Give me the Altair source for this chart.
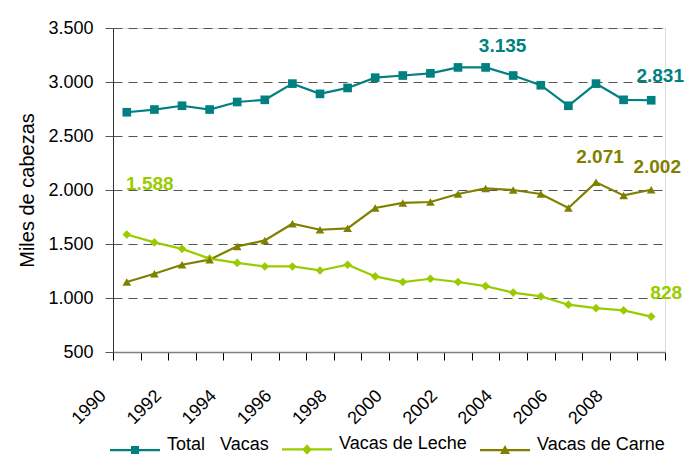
import altair as alt
import pandas as pd

YEARS = list(range(1990, 2010))
TOTAL = [2720, 2745, 2780, 2745, 2815, 2835, 2985, 2890, 2945, 3040,
         3060, 3080, 3135, 3135, 3060, 2970, 2780, 2985, 2835, 2831]
LECHE = [1588, 1515, 1455, 1365, 1325, 1292, 1292, 1255, 1308, 1200,
         1148, 1178, 1148, 1110, 1050, 1015, 938, 906, 885, 828]
CARNE = [1148, 1225, 1308, 1355, 1478, 1533, 1688, 1632, 1645, 1833,
         1880, 1889, 1963, 2015, 2000, 1963, 1833, 2071, 1950, 2002]

SERIES = ["Total\u00a0\u00a0\u00a0Vacas", "Vacas de Leche", "Vacas de Carne"]
COLORS = ["#008080", "#99CC00", "#808000"]
SHAPES = ["square", "diamond", "triangle-up"]

# labelled points
LABEL_YEARS = [1990, 2003, 2009, 2007, 2009, 2009]
LABEL_VALUES = [1588, 3135, 2831, 2071, 2002, 828]
LABEL_SERIES = [1, 0, 0, 2, 2, 1]
LABEL_OFFSETS = [(23, -50), (17, -21), (9, -24), (4, -25), (6, -23), (15, -24)]

rows = []
for name, vals in zip(SERIES, [TOTAL, LECHE, CARNE]):
    for y, v in zip(YEARS, vals):
        rows.append({"year": y, "value": v, "series": name})
df = pd.DataFrame(rows)

FONT = "Liberation Sans"

x_enc = alt.X(
    "year:Q",
    scale=alt.Scale(domain=[1989.5, 2009.5], nice=False, zero=False),
    axis=alt.Axis(
        title=None,
        values=[y - 0.5 for y in YEARS] + [2009.5],
        labelExpr="((datum.value + 0.5) % 2 == 0 && datum.value < 2009) ? format(datum.value + 0.5, 'd') : ''",
        labelAngle=-45,
        labelAlign="right",
        labelBaseline="middle",
        labelFlush=False,
        labelOverlap=False,
        labelPadding=33,
        labelOffset=-10,
        labelFont=FONT,
        labelFontSize=18,
        labelColor="#000000",
        tickSize=8,
        tickColor="#000000",
        tickWidth=1,
        domainColor="#808080",
        domainWidth=1.5,
        grid=False,
    ),
)
y_enc = alt.Y(
    "value:Q",
    scale=alt.Scale(domain=[500, 3500], nice=False, zero=False),
    axis=alt.Axis(
        title="Miles de cabezas",
        values=[500, 1000, 1500, 2000, 2500, 3000, 3500],
        labelExpr="replace(format(datum.value, ','), ',', '.')",
        labelFont=FONT,
        labelFontSize=18,
        labelColor="#000000",
        labelPadding=12,
        tickSize=8,
        tickColor="#555555",
        domainColor="#333333",
        domainWidth=1,
        grid=True,
        gridColor="#555555",
        gridDash=[9, 6],
        gridWidth=1,
        titleFont=FONT,
        titleFontSize=20,
        titleFontWeight="normal",
        titleColor="#000000",
        titleX=-86,
        titleY=162,
        titleAngle=-90,
        titleAlign="center",
        titleBaseline="middle",
    ),
)

color_nolegend = alt.Color("series:N", scale=alt.Scale(domain=SERIES, range=COLORS), legend=None)

lines = alt.Chart(df).mark_line(strokeWidth=2.2).encode(
    x=x_enc, y=y_enc, color=color_nolegend, detail="series:N"
)
points = alt.Chart(df).mark_point(filled=True, opacity=1, size=75).encode(
    x=x_enc, y=y_enc, color=color_nolegend,
    shape=alt.Shape("series:N", scale=alt.Scale(domain=SERIES, range=SHAPES), legend=None),
)

# legend-only layer: line + marker symbols
LEG_SHAPES = [
    "M-1,-0.045L1,-0.045L1,0.045L-1,0.045Z M-0.16,-0.16L0.16,-0.16L0.16,0.16L-0.16,0.16Z",
    "M-1,-0.045L1,-0.045L1,0.045L-1,0.045Z M0,-0.21L0.19,0L0,0.21L-0.19,0Z",
    "M-1,-0.045L1,-0.045L1,0.045L-1,0.045Z M0,-0.2L0.2,0.16L-0.2,0.16Z",
]


def make_legend():
    return alt.Legend(
        title=None, orient="none", legendX=-3, legendY=396,
        direction="horizontal", symbolSize=2500, symbolStrokeWidth=0,
        labelFont=FONT, labelFontSize=18, labelColor="#000000",
        labelBaseline="alphabetic",
        labelOffset=7, columnPadding=13, padding=0,
    )


legend_layer = alt.Chart(df).transform_filter("false").mark_point(filled=True, opacity=1).encode(
    x=x_enc, y=y_enc,
    color=alt.Color("series:N", scale=alt.Scale(domain=SERIES, range=COLORS), legend=make_legend()),
    shape=alt.Shape("series:N", scale=alt.Scale(domain=SERIES, range=LEG_SHAPES), legend=make_legend()),
)

label_layers = []
for yr, v, s, (dx, dy) in zip(LABEL_YEARS, LABEL_VALUES, LABEL_SERIES, LABEL_OFFSETS):
    ldf = pd.DataFrame({"year": [yr], "value": [v], "text": [f"{v:,}".replace(",", ".")]})
    label_layers.append(
        alt.Chart(ldf).mark_text(
            font=FONT, fontSize=19, fontWeight="bold", color=COLORS[s],
            dx=dx, dy=dy, align="center", baseline="middle",
        ).encode(x=x_enc, y=y_enc, text="text:N")
    )

chart = alt.layer(lines, points, *label_layers, legend_layer).resolve_scale(
    color="independent", shape="independent"
).properties(
    width=552, height=324,
    autosize=alt.AutoSizeParams(type="none"),
    padding={"left": 105, "top": 20, "right": 25, "bottom": 103},
).configure_view(stroke=None).configure(background="#ffffff")

chart.save("out.html", embed_options={"renderer": "svg", "actions": False})
